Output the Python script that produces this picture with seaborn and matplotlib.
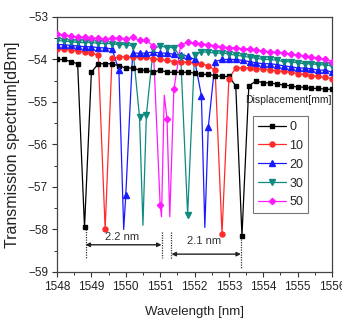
import numpy as np
import pandas as pd
import matplotlib
matplotlib.use("Agg")
import matplotlib.pyplot as plt
import seaborn as sns
from matplotlib.lines import Line2D
from matplotlib.ticker import MultipleLocator

# ---------------- data ----------------
labels = ["0", "10", "20", "30", "50"]

wl_0 = [1548.0, 1548.2, 1548.4, 1548.6, 1548.8, 1549.0, 1549.2, 1549.4, 1549.6, 1549.8,
        1550.0, 1550.2, 1550.4, 1550.6, 1550.8, 1551.0, 1551.2, 1551.4, 1551.6, 1551.8,
        1552.0, 1552.2, 1552.4, 1552.6, 1552.8, 1553.0, 1553.2, 1553.38, 1553.58, 1553.8,
        1554.0, 1554.2, 1554.4, 1554.6, 1554.8, 1555.0, 1555.2, 1555.4, 1555.6, 1555.8, 1556.0]
tr_0 = [-54.0, -54.0, -54.05, -54.1, -57.95, -54.3, -54.1, -54.1, -54.1, -54.15,
        -54.2, -54.2, -54.25, -54.25, -54.3, -54.25, -54.3, -54.3, -54.3, -54.3,
        -54.32, -54.35, -54.35, -54.38, -54.4, -54.4, -54.62, -58.15, -54.62, -54.5,
        -54.55, -54.55, -54.58, -54.6, -54.62, -54.65, -54.65, -54.68, -54.68, -54.7, -54.7]

wl_10 = [1548.0, 1548.2, 1548.4, 1548.6, 1548.8, 1549.0, 1549.2, 1549.4, 1549.6, 1549.8,
         1550.0, 1550.2, 1550.4, 1550.6, 1550.8, 1551.0, 1551.2, 1551.4, 1551.6, 1551.8,
         1552.0, 1552.2, 1552.4, 1552.6, 1552.8, 1553.0, 1553.2, 1553.4, 1553.6, 1553.8,
         1554.0, 1554.2, 1554.4, 1554.6, 1554.8, 1555.0, 1555.2, 1555.4, 1555.6, 1555.8, 1556.0]
tr_10 = [-53.75, -53.76, -53.78, -53.8, -53.83, -53.85, -53.9, -58.0, -53.97, -53.95,
         -53.93, -53.95, -53.95, -53.95, -53.98, -54.0, -54.02, -54.05, -54.05, -54.07,
         -54.08, -54.1, -54.15, -54.25, -58.1, -54.45, -54.2, -54.2, -54.2, -54.22,
         -54.22, -54.25, -54.27, -54.28, -54.3, -54.33, -54.35, -54.38, -54.4, -54.42, -54.45]

wl_20 = [1548.0, 1548.2, 1548.4, 1548.6, 1548.8, 1549.0, 1549.2, 1549.4, 1549.6, 1549.8,
         1550.0, 1550.2, 1550.4, 1550.6, 1550.8, 1551.0, 1551.2, 1551.4, 1551.6, 1551.8,
         1552.0, 1552.2, 1552.4, 1552.6, 1552.8, 1553.0, 1553.2, 1553.4, 1553.6, 1553.8,
         1554.0, 1554.2, 1554.4, 1554.6, 1554.8, 1555.0, 1555.2, 1555.4, 1555.6, 1555.8, 1556.0]
tr_20 = [-53.65, -53.65, -53.67, -53.68, -53.7, -53.7, -53.72, -53.73, -53.75, -54.25,
         -57.2, -53.85, -53.85, -53.85, -53.82, -53.85, -53.85, -53.88, -53.9, -53.92,
         -54.0, -54.85, -55.6, -54.05, -54.0, -54.0, -54.0, -54.02, -54.05, -54.08,
         -54.1, -54.1, -54.12, -54.15, -54.17, -54.2, -54.2, -54.22, -54.25, -54.25, -54.3]

wl_30 = [1548.0, 1548.2, 1548.4, 1548.6, 1548.8, 1549.0, 1549.2, 1549.4, 1549.6, 1549.8,
         1550.0, 1550.2, 1550.4, 1550.6, 1550.8, 1551.0, 1551.2, 1551.4, 1551.6, 1551.8,
         1552.0, 1552.2, 1552.4, 1552.6, 1552.8, 1553.0, 1553.2, 1553.4, 1553.6, 1553.8,
         1554.0, 1554.2, 1554.4, 1554.6, 1554.8, 1555.0, 1555.2, 1555.4, 1555.6, 1555.8, 1556.0]
tr_30 = [-53.55, -53.57, -53.58, -53.6, -53.6, -53.6, -53.62, -53.62, -53.63, -53.65,
         -53.65, -53.68, -55.35, -55.3, -53.75, -53.68, -53.72, -53.72, -53.95, -57.65,
         -53.9, -53.82, -53.83, -53.85, -53.85, -53.87, -53.9, -53.92, -53.95, -53.97,
         -54.0, -54.0, -54.02, -54.05, -54.05, -54.08, -54.1, -54.1, -54.12, -54.13, -54.15]

wl_50 = [1548.0, 1548.2, 1548.4, 1548.6, 1548.8, 1549.0, 1549.2, 1549.4, 1549.6, 1549.8,
         1550.0, 1550.2, 1550.4, 1550.6, 1550.8, 1551.0, 1551.2, 1551.4, 1551.6, 1551.8,
         1552.0, 1552.2, 1552.4, 1552.6, 1552.8, 1553.0, 1553.2, 1553.4, 1553.6, 1553.8,
         1554.0, 1554.2, 1554.4, 1554.6, 1554.8, 1555.0, 1555.2, 1555.4, 1555.6, 1555.8, 1556.0]
tr_50 = [-53.4, -53.42, -53.45, -53.47, -53.48, -53.5, -53.5, -53.52, -53.5, -53.5,
         -53.52, -53.48, -53.55, -53.55, -53.68, -57.42, -55.4, -54.7, -53.65, -53.6,
         -53.62, -53.63, -53.65, -53.68, -53.7, -53.72, -53.72, -53.75, -53.75, -53.78,
         -53.8, -53.82, -53.83, -53.85, -53.87, -53.9, -53.92, -53.95, -53.97, -54.0, -54.05]

# deepest points of the traces that fall between sampled points
dip_wl_20 = [1549.94, 1552.3]
dip_tr_20 = [-58.0, -57.95]
dip_wl_30 = [1550.5]
dip_tr_30 = [-57.9]
dip_wl_50 = [1551.04, 1551.12, 1551.28]
dip_tr_50 = [-57.7, -54.84, -57.7]

series = [
    ("0", wl_0, tr_0, [], []),
    ("10", wl_10, tr_10, [], []),
    ("20", wl_20, tr_20, dip_wl_20, dip_tr_20),
    ("30", wl_30, tr_30, dip_wl_30, dip_tr_30),
    ("50", wl_50, tr_50, dip_wl_50, dip_tr_50),
]

colors = ["#000000", "#ff2a2a", "#1a1aff", "#0f8a80", "#ff1aff"]
markers = ["s", "o", "^", "v", "D"]
msizes = [3.4, 3.6, 4.0, 4.0, 3.2]

# spacing annotations
spacing_labels = ["2.2 nm", "2.1 nm"]
spacing_from = [1548.83, 1551.33]
spacing_to = [1551.04, 1553.35]

# ---------------- styling ----------------
sns.set_style("ticks")
plt.rcParams["font.family"] = ["Liberation Sans", "DejaVu Sans"]
plt.rcParams["axes.linewidth"] = 0.9
plt.rcParams["axes.edgecolor"] = "#444444"

fig = plt.figure(figsize=(3.42, 3.25), dpi=100)
ax = fig.add_axes([0.1667, 0.1631, 0.8041, 0.7846])

for (lab, wl, tr, dwl, dtr), c, m, ms in zip(series, colors, markers, msizes):
    line_df = pd.DataFrame({"wl": list(wl) + list(dwl), "tr": list(tr) + list(dtr)})
    line_df = line_df.sort_values("wl")
    sns.lineplot(data=line_df, x="wl", y="tr", ax=ax, color=c, lw=0.9,
                 sort=False, estimator=None, legend=False)
    ax.plot(wl, tr, ls="none", marker=m, ms=ms, color=c, mec=c, zorder=3)

# spacing annotations
dotted_x = [spacing_from[0], spacing_to[0], spacing_from[1], spacing_to[1]]
dotted_y0 = [-58.0, -58.05, -58.05, -58.1]
dotted_y1 = [-58.68, -58.68, -58.7, -58.92]
for x, y0, y1 in zip(dotted_x, dotted_y0, dotted_y1):
    ax.plot([x, x], [y0, y1], ls=(0, (1, 1)), color="#333333", lw=0.9)

arrow_y = [-58.36, -58.58]
text_y = [-58.17, -58.27]
for lab, a, b, ay, ty in zip(spacing_labels, spacing_from, spacing_to, arrow_y, text_y):
    ax.annotate("", xy=(a, ay), xytext=(b, ay),
                arrowprops=dict(arrowstyle="<|-|>", color="#222222", lw=1.0,
                                mutation_scale=6, shrinkA=0, shrinkB=0))
    ax.text((a + b) / 2 - 0.05, ty, lab, ha="center", va="center", fontsize=8,
            color="#333333")

ax.set_xlim(1548, 1556)
ax.set_ylim(-59, -53)
ax.xaxis.set_major_locator(MultipleLocator(1))
ax.xaxis.set_minor_locator(MultipleLocator(0.5))
ax.yaxis.set_major_locator(MultipleLocator(1))
ax.yaxis.set_minor_locator(MultipleLocator(0.5))
ax.tick_params(which="major", direction="out", length=3.5, width=0.8, labelsize=8.5,
               colors="#333333", labelcolor="#222222", pad=3)
ax.tick_params(which="minor", direction="out", length=2, width=0.7, colors="#333333")
for s in ["top", "right"]:
    ax.spines[s].set_visible(True)

ax.set_xlabel("Wavelength [nm]", fontsize=9.5, color="#222222", labelpad=9)
ax.set_ylabel("Transmission spectrum[dBm]", fontsize=11.5, color="#222222", labelpad=6)

handles = [Line2D([0], [0], color=c, lw=0.9, marker=m, ms=ms, mec=c)
           for c, m, ms in zip(colors, markers, msizes)]
leg = ax.legend(handles, labels, loc="upper left", bbox_to_anchor=(0.713, 0.612),
                frameon=True, fancybox=False, fontsize=9, handlelength=2.2,
                handletextpad=0.3, labelspacing=0.55, borderpad=0.4,
                borderaxespad=0)
leg.get_frame().set_edgecolor("#555555")
leg.get_frame().set_linewidth(0.8)
ax.text(0.998, 0.675, "Displacement[mm]", transform=ax.transAxes, ha="right",
        va="center", fontsize=7.5, color="#222222")

fig.savefig("out.png", dpi=100)
